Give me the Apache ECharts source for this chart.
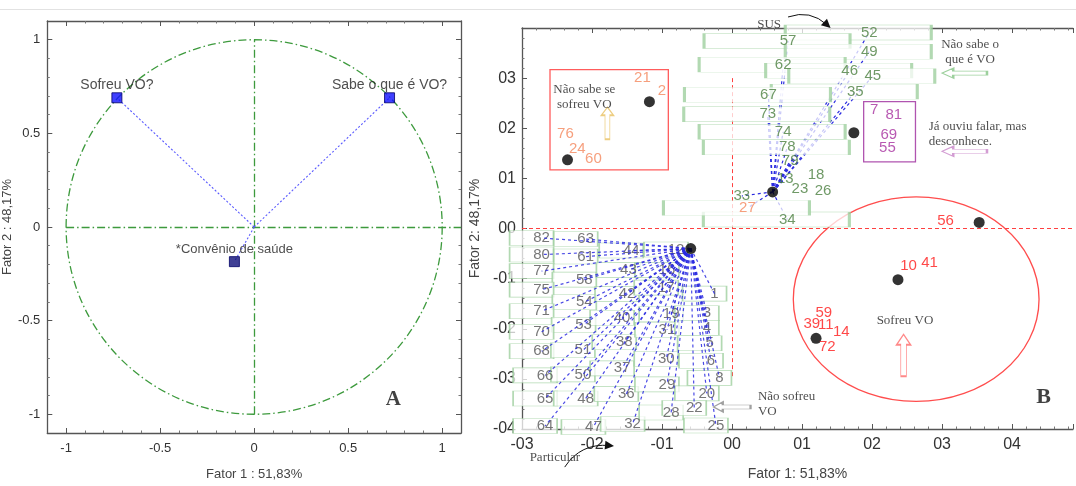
<!DOCTYPE html>
<html><head><meta charset="utf-8">
<script src="https://cdn.jsdelivr.net/npm/echarts@6.0.0/dist/echarts.min.js"></script>
<style>html,body{margin:0;padding:0;background:#fff}#c{width:1076px;height:486px}</style>
</head><body><div id="c"></div>
<script>
// ---------- Panel A : variable loadings ----------
const varNames = ['Sofreu VO?', 'Sabe o que é VO?', '*Convênio de saúde'];
const fator1A = [-0.73, 0.72, -0.105];
const fator2A = [0.69, 0.69, -0.185];
const unitCircle = [0, 0, 1, 1];          // centre x, centre y, radius x, radius y

// ---------- Panel B : individuals ----------
// group centroids (black dots)
const centroidX = [-2.35, -1.18, 0.58, 1.74, 3.53, -0.59, 2.37, 1.20];
const centroidY = [1.37, 2.53, 0.73, 1.91, 0.12, -0.40, -1.02, -2.19];
const LOWER_DOT = 5, UPPER_DOT = 2;

// cluster "Não sofreu VO / Particular" (boxed labels)
const lowerIds = ['82','63','80','61','77','58','75','54','71','53','70','68','51','66','50','65','48','64','47',
  '44','43','42','40','38','37','36','32','12','16','17','19','31','30','29','28','1','3','4','5','6','8','20','22','25'];
const lowerX = [-2.72,-2.09,-2.72,-2.09,-2.72,-2.11,-2.72,-2.11,-2.72,-2.12,-2.72,-2.72,-2.13,-2.67,-2.13,-2.67,-2.09,-2.67,-1.98,
  -1.44,-1.48,-1.50,-1.57,-1.54,-1.57,-1.51,-1.42,-0.80,-0.93,-0.94,-0.87,-0.93,-0.94,-0.93,-0.87,-0.25,-0.36,-0.36,-0.32,-0.30,-0.18,-0.36,-0.54,-0.23];
const lowerY = [-0.19,-0.21,-0.52,-0.56,-0.85,-1.02,-1.22,-1.47,-1.65,-1.92,-2.06,-2.45,-2.43,-2.93,-2.91,-3.39,-3.39,-3.94,-3.96,
  -0.44,-0.83,-1.31,-1.78,-2.27,-2.79,-3.30,-3.90,-0.42,-0.83,-1.18,-1.71,-2.02,-2.60,-3.11,-3.67,-1.30,-1.69,-1.98,-2.29,-2.64,-2.98,-3.29,-3.58,-3.93];

// cluster "SUS / Não sabe o que é VO" (boxed labels)
const upperIds = ['52','57','49','62','46','45','35','67','73','74','78','34','27'];
const upperX = [1.96,0.80,1.96,0.73,1.68,2.01,1.76,0.52,0.51,0.73,0.79,0.79,0.22];
const upperY = [3.91,3.74,3.53,3.27,3.15,3.04,2.73,2.67,2.28,1.93,1.62,0.18,0.41];
// same cluster, free labels linked to the dot
const upperLinkIds = ['79','13','33'];
const upperLinkX = [0.83,0.76,0.14];
const upperLinkY = [1.35,1.00,0.65];
// same cluster, free labels not linked
const upperLooseIds = ['18','23','26'];
const upperLooseX = [1.20,0.97,1.30];
const upperLooseY = [1.07,0.80,0.75];

// "Não sabe se sofreu VO" group
const orangeIds = ['21','2','76','24','60'];
const orangeX = [-1.28,-1.00,-2.38,-2.21,-1.98];
const orangeY = [3.00,2.75,1.89,1.58,1.39];
const orangeGroup = ['21','2','76','24','60','27'];
// "Já ouviu falar, mas desconhece" group
const purpleIds = ['7','81','69','55'];
const purpleX = [2.03,2.31,2.24,2.22];
const purpleY = [2.36,2.26,1.87,1.60];
// "Sofreu VO" group
const redIds = ['56','10','41','59','39','11','14','72'];
const redX = [3.05,2.52,2.82,1.31,1.14,1.34,1.56,1.36];
const redY = [0.16,-0.75,-0.69,-1.69,-1.90,-1.92,-2.06,-2.37];

// group outlines
const redRect = [-2.60, 1.17, -0.91, 3.17];
const purpleRect = [1.88, 1.33, 2.62, 2.53];
const redEllipse = [2.63, -1.41, 1.755, 2.04];

// annotations
const annotTexts = ['SUS', 'Não sabe se\nsofreu VO', 'Não sabe o\nque é VO', 'Já ouviu falar, mas\ndesconhece.', 'Sofreu VO', 'Não sofreu\nVO', 'Particular'];
const annotX = [0.53, -2.11, 3.40, 2.81, 2.47, 0.37, -2.53];
const annotY = [4.06, 2.63, 3.51, 1.89, -1.84, -3.51, -4.58];
const upArrowX = [-1.78, 2.45];
const upArrowY = [2.10, -2.53];
const leftArrowX = [3.32, 3.32, 0.00];
const leftArrowY = [3.10, 1.54, -3.56];
const curveArrows = [[[0.80, 4.22], [1.36, 4.06]], [[-2.39, -4.76], [-1.75, -4.33]]];

// ---------- styling ----------
const FONT = "'Liberation Sans', Arial, sans-serif";
const SERIF = "'Liberation Serif', 'Times New Roman', serif";
const AX = '#555';
const BOX = { color: 'rgba(255,255,255,0.92)', borderColor: '#9fcf9f', borderWidth: 1, borderType: 'solid' };
const pts = (ids, xs, ys) => ids.map((id, i) => ({ name: id, value: [xs[i], ys[i]] }));
const links = (dot, xs, ys) => xs.map((x, i) => ({ coords: [[centroidX[dot], centroidY[dot]], [x, ys[i]]] }));

const fmtA = v => (Math.abs(v * 2 - Math.round(v * 2)) < 1e-6 ? String(+v.toFixed(1)) : '');
const fmtB = v => {
  if (Math.abs(v - Math.round(v)) > 1e-6) return '';
  const r = Math.round(v);
  return (r < 0 ? '-0' : '0') + Math.abs(r);
};
const fmtBy = v => (Math.round(v) === 4 ? '' : fmtB(v));

function axisBase(extra) {
  return Object.assign({
    type: 'value',
    axisLine: { show: true, onZero: false, lineStyle: { color: AX, width: 1.3 } },
    axisTick: { show: true, inside: true, length: 5, lineStyle: { color: AX } },
    minorTick: { show: true, splitNumber: 5, length: 2.5, lineStyle: { color: '#777' } },
    splitLine: { show: false }
  }, extra);
}

const arrowUp = 'path://M5,0 L10,10 L7,10 L7,40 L3,40 L3,10 L0,10 Z';
const arrowLeft = 'path://M0,5 L10,0 L10,3 L40,3 L40,7 L10,7 L10,10 Z';

function ellipseSeries(xi, yi, data, color, dash, z) {
  return {
    type: 'custom', xAxisIndex: xi, yAxisIndex: yi, z: z, silent: true, clip: false,
    data: [data],
    renderItem: (params, api) => {
      const c = api.coord([api.value(0), api.value(1)]);
      const s = api.size([api.value(2), api.value(3)]);
      return { type: 'ellipse', shape: { cx: c[0], cy: c[1], rx: s[0], ry: s[1] },
        style: { fill: 'none', stroke: color, lineWidth: 1.3, lineDash: dash } };
    }
  };
}
function rectSeries(xi, yi, data, color, z) {
  return {
    type: 'custom', xAxisIndex: xi, yAxisIndex: yi, z: z, silent: true,
    data: [data],
    renderItem: (params, api) => {
      const p1 = api.coord([api.value(0), api.value(1)]);
      const p2 = api.coord([api.value(2), api.value(3)]);
      return { type: 'rect', shape: { x: Math.min(p1[0], p2[0]), y: Math.min(p1[1], p2[1]),
        width: Math.abs(p2[0] - p1[0]), height: Math.abs(p2[1] - p1[1]) },
        style: { fill: 'none', stroke: color, lineWidth: 1.3 } };
    }
  };
}
function textSeries(data, color, size, z) {
  return {
    type: 'scatter', xAxisIndex: 2, yAxisIndex: 2, z: z, clip: false, silent: true,
    symbolSize: 0, data: data,
    label: { show: true, position: 'inside', formatter: '{b}', color: color, fontFamily: FONT, fontSize: size }
  };
}

const option = {
  animation: false,
  backgroundColor: '#fff',
  graphic: [{ type: 'line', shape: { x1: 0, y1: 9.5, x2: 1076, y2: 9.5 }, style: { stroke: '#e2e2e2', lineWidth: 1 } }],
  grid: [
    { left: 45, top: 21, right: 615, bottom: 49 },
    { left: 522, top: 28, right: 0, bottom: 46 }
  ],
  xAxis: [
    axisBase({ gridIndex: 0, min: -1.1, max: 1.1, splitNumber: 4, position: 'bottom',
      axisLabel: { formatter: fmtA, color: '#333', fontFamily: FONT, fontSize: 13, margin: 9 },
      name: 'Fator 1 : 51,83%', nameLocation: 'middle', nameGap: 35,
      nameTextStyle: { color: '#444', fontFamily: FONT, fontSize: 13 } }),
    axisBase({ gridIndex: 0, min: -1.1, max: 1.1, splitNumber: 4, position: 'top', axisLabel: { show: false } }),
    axisBase({ gridIndex: 1, min: -3, max: 4.87, interval: 1, position: 'bottom',
      axisLabel: { formatter: fmtB, color: '#333', fontFamily: FONT, fontSize: 16, margin: 8 },
      name: 'Fator 1: 51,83%', nameLocation: 'middle', nameGap: 38,
      nameTextStyle: { color: '#444', fontFamily: FONT, fontSize: 14 } }),
    axisBase({ gridIndex: 1, min: -3, max: 4.87, interval: 1, position: 'top', axisLabel: { show: false } })
  ],
  yAxis: [
    axisBase({ gridIndex: 0, min: -1.1, max: 1.1, splitNumber: 4, position: 'left',
      axisLabel: { formatter: fmtA, color: '#333', fontFamily: FONT, fontSize: 13, margin: 7 },
      name: 'Fator 2 : 48,17%', nameLocation: 'middle', nameGap: 26,
      nameTextStyle: { color: '#444', fontFamily: FONT, fontSize: 13 } }),
    axisBase({ gridIndex: 0, min: -1.1, max: 1.1, splitNumber: 4, position: 'right', axisLabel: { show: false } }),
    axisBase({ gridIndex: 1, min: -4, max: 4, interval: 1, position: 'left',
      axisLabel: { formatter: fmtBy, color: '#333', fontFamily: FONT, fontSize: 16, margin: 6 },
      name: 'Fator 2: 48,17%', nameLocation: 'middle', nameGap: 37,
      nameTextStyle: { color: '#444', fontFamily: FONT, fontSize: 14 } })
  ],
  series: [
    // ----- Panel A -----
    ellipseSeries(0, 0, unitCircle, '#3d9a3d', [8, 3, 1.5, 3], 1),
    { type: 'lines', coordinateSystem: 'cartesian2d', xAxisIndex: 0, yAxisIndex: 0, z: 1, silent: true, clip: false,
      lineStyle: { color: '#3d9a3d', width: 1.3, type: [8, 3, 1.5, 3], opacity: 1 },
      data: [{ coords: [[-1, 0], [1.1, 0]] }, { coords: [[0, -1], [0, 1]] }] },
    { type: 'lines', coordinateSystem: 'cartesian2d', xAxisIndex: 0, yAxisIndex: 0, z: 2, silent: true,
      lineStyle: { color: '#5a5aff', width: 1.1, type: [2, 2], opacity: 1 },
      data: fator1A.map((x, i) => ({ coords: [[0, 0], [x, fator2A[i]]] })) },
    { type: 'scatter', xAxisIndex: 0, yAxisIndex: 0, z: 3, symbol: 'rect', symbolSize: 10,
      data: varNames.map((n, i) => ({ name: n, value: [fator1A[i], fator2A[i]],
        itemStyle: { color: i === 2 ? '#10107a' : '#1010ff', borderColor: '#000066', borderWidth: 1 },
        label: { fontSize: i === 2 ? 13 : 14 } })),
      label: { show: true, position: 'top', distance: 0, formatter: '{b}', color: '#222', fontFamily: FONT } },
    { type: 'scatter', xAxisIndex: 0, yAxisIndex: 0, z: 3, symbolSize: 0, silent: true,
      data: [{ name: 'A', value: [0.74, -0.92] }],
      label: { show: true, position: 'inside', formatter: '{b}', color: '#111', fontFamily: SERIF, fontWeight: 'bold', fontSize: 21 } },

    // ----- Panel B -----
    ellipseSeries(2, 2, redEllipse, '#ff4d4d', null, 1),
    rectSeries(2, 2, redRect, '#ff5c5c', 1),
    rectSeries(2, 2, purpleRect, '#b054b0', 1),
    { type: 'lines', coordinateSystem: 'cartesian2d', xAxisIndex: 2, yAxisIndex: 2, z: 1, silent: true,
      lineStyle: { color: '#ff4040', width: 1, type: [4, 3], opacity: 1 },
      data: [{ coords: [[-3, 0], [4.87, 0]] }, { coords: [[0, 3], [0, -3]] }] },
    // upper cluster leader lines (under the boxes)
    { type: 'lines', coordinateSystem: 'cartesian2d', xAxisIndex: 2, yAxisIndex: 2, z: 2, silent: true,
      lineStyle: { color: '#2a2ae0', width: 1.2, type: [3, 3], opacity: 1 },
      data: links(UPPER_DOT, upperX, upperY).concat(links(UPPER_DOT, upperLinkX, upperLinkY)) },
    // upper boxes
    { type: 'scatter', xAxisIndex: 2, yAxisIndex: 2, z: 3, silent: true, clip: false,
      symbol: 'rect', symbolSize: [146, 15], symbolOffset: [-11, 0], itemStyle: BOX,
      data: pts(upperIds, upperX, upperY).map(d => Object.assign(d,
        orangeGroup.includes(d.name) ? { label: { color: '#f4875c' } } : {})),
      label: { show: true, position: 'inside', offset: [11, 0], formatter: '{b}', color: '#4b8040', fontFamily: FONT, fontSize: 15 } },
    textSeries(pts(upperLinkIds, upperLinkX, upperLinkY).concat(pts(upperLooseIds, upperLooseX, upperLooseY)), '#4b8040', 15, 4),
    // lower boxes
    { type: 'scatter', xAxisIndex: 2, yAxisIndex: 2, z: 3, silent: true, clip: false,
      symbol: 'rect', symbolSize: [44, 15], symbolOffset: [-10, 0], itemStyle: BOX,
      data: pts(lowerIds, lowerX, lowerY),
      label: { show: true, position: 'inside', offset: [10, 0], formatter: '{b}', color: '#555', fontFamily: FONT, fontSize: 15 } },
    // lower cluster leader lines (over the boxes)
    { type: 'lines', coordinateSystem: 'cartesian2d', xAxisIndex: 2, yAxisIndex: 2, z: 4, silent: true,
      lineStyle: { color: '#2a2ae0', width: 1.2, type: [3, 3], opacity: 0.85 },
      data: links(LOWER_DOT, lowerX, lowerY) },
    // centroids
    { type: 'scatter', xAxisIndex: 2, yAxisIndex: 2, z: 5, symbol: 'circle', symbolSize: 11, silent: true,
      itemStyle: { color: '#000' }, data: centroidX.map((x, i) => [x, centroidY[i]]) },
    textSeries(pts(orangeIds, orangeX, orangeY), '#f4875c', 15, 5),
    textSeries(pts(purpleIds, purpleX, purpleY), '#a6309f', 15, 5),
    textSeries(pts(redIds, redX, redY), '#ff1a1a', 15, 5),
    // annotations
    { type: 'scatter', xAxisIndex: 2, yAxisIndex: 2, z: 5, clip: false, silent: true, symbolSize: 0,
      data: annotTexts.map((t, i) => ({ name: t, value: [annotX[i], annotY[i]],
        label: { align: (i === 3 || i === 5) ? 'left' : 'center' } })),
      label: { show: true, position: 'inside', formatter: '{b}', color: '#222', fontFamily: SERIF, fontSize: 13, lineHeight: 15 } },
    { type: 'scatter', xAxisIndex: 2, yAxisIndex: 2, z: 5, clip: false, silent: true, symbol: arrowUp,
      data: [
        { value: [upArrowX[0], upArrowY[0]], symbolSize: [12, 32], itemStyle: { color: '#fff', borderColor: '#e8c060', borderWidth: 1.2 } },
        { value: [upArrowX[1], upArrowY[1]], symbolSize: [14, 42], itemStyle: { color: '#fff', borderColor: '#ff6a6a', borderWidth: 1.2 } }
      ] },
    { type: 'scatter', xAxisIndex: 2, yAxisIndex: 2, z: 5, clip: false, silent: true, symbol: arrowLeft,
      data: [
        { value: [leftArrowX[0], leftArrowY[0]], symbolSize: [45, 10], itemStyle: { color: '#fff', borderColor: '#84c484', borderWidth: 1.2 } },
        { value: [leftArrowX[1], leftArrowY[1]], symbolSize: [45, 10], itemStyle: { color: '#fff', borderColor: '#c884c8', borderWidth: 1.2 } },
        { value: [leftArrowX[2], leftArrowY[2]], symbolSize: [37, 10], itemStyle: { color: '#fff', borderColor: '#888', borderWidth: 1.2 } }
      ] },
    { type: 'lines', coordinateSystem: 'cartesian2d', xAxisIndex: 2, yAxisIndex: 2, z: 5, silent: true, clip: false,
      symbol: ['none', 'triangle'], symbolSize: 9,
      lineStyle: { color: '#111', width: 1, curveness: 0.3, opacity: 1 },
      data: curveArrows.map(c => ({ coords: c })) },
    { type: 'scatter', xAxisIndex: 2, yAxisIndex: 2, z: 5, symbolSize: 0, silent: true, clip: false,
      data: [{ name: 'B', value: [4.45, -3.37] }],
      label: { show: true, position: 'inside', formatter: '{b}', color: '#111', fontFamily: SERIF, fontWeight: 'bold', fontSize: 22 } }
  ]
};
const chart = echarts.init(document.getElementById('c'));
chart.setOption(option);
</script></body></html>
